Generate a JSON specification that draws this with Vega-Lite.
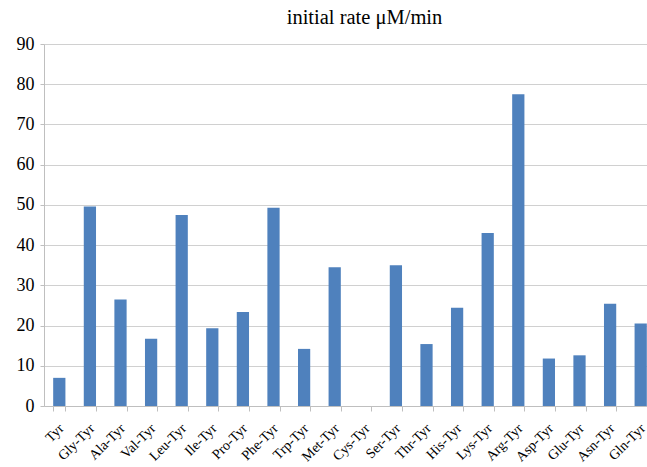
{
  "$schema": "https://vega.github.io/schema/vega-lite/v6.json",
  "autosize": "none",
  "width": 603,
  "height": 362,
  "padding": {"left": 44, "top": 44, "right": 0, "bottom": 61},
  "background": "white",
  "title": {
    "text": "initial rate μM/min",
    "font": "Times New Roman, Liberation Serif, serif",
    "fontSize": 20.5,
    "fontWeight": "normal",
    "color": "#000000",
    "anchor": "middle",
    "offset": 7,
    "dx": 19
  },
  "data": {
    "values": [
      {"peptide": "Tyr", "rate": 7.0},
      {"peptide": "Gly-Tyr", "rate": 49.6},
      {"peptide": "Ala-Tyr", "rate": 26.5},
      {"peptide": "Val-Tyr", "rate": 16.7},
      {"peptide": "Leu-Tyr", "rate": 47.5},
      {"peptide": "Ile-Tyr", "rate": 19.3},
      {"peptide": "Pro-Tyr", "rate": 23.4},
      {"peptide": "Phe-Tyr", "rate": 49.3},
      {"peptide": "Trp-Tyr", "rate": 14.2},
      {"peptide": "Met-Tyr", "rate": 34.5},
      {"peptide": "Cys-Tyr", "rate": 0},
      {"peptide": "Ser-Tyr", "rate": 35.0},
      {"peptide": "Thr-Tyr", "rate": 15.4},
      {"peptide": "His-Tyr", "rate": 24.4},
      {"peptide": "Lys-Tyr", "rate": 43.0},
      {"peptide": "Arg-Tyr", "rate": 77.5},
      {"peptide": "Asp-Tyr", "rate": 11.8},
      {"peptide": "Glu-Tyr", "rate": 12.6},
      {"peptide": "Asn-Tyr", "rate": 25.4},
      {"peptide": "Gln-Tyr", "rate": 20.5}
    ]
  },
  "mark": {"type": "bar", "color": "#4F81BD"},
  "encoding": {
    "x": {
      "field": "peptide",
      "type": "nominal",
      "sort": null,
      "scale": {"range": [0, 612], "paddingInner": 0.6, "paddingOuter": 0.3},
      "axis": {
        "title": null,
        "labelAngle": -45,
        "labelFont": "Times New Roman, Liberation Serif, serif",
        "labelFontSize": 14,
        "labelColor": "#000000",
        "labelPadding": 10,
        "labelOffset": -3,
        "tickBand": "extent",
        "tickSize": 5,
        "tickColor": "#bfbfbf",
        "domainColor": "#bfbfbf",
        "grid": false
      }
    },
    "y": {
      "field": "rate",
      "type": "quantitative",
      "scale": {"domain": [0, 90], "nice": false},
      "axis": {
        "title": null,
        "values": [0, 10, 20, 30, 40, 50, 60, 70, 80, 90],
        "labelFont": "Times New Roman, Liberation Serif, serif",
        "labelFontSize": 18,
        "labelColor": "#000000",
        "labelPadding": 6,
        "tickSize": 4,
        "tickColor": "#bfbfbf",
        "domainColor": "#bfbfbf",
        "gridColor": "#d0d0d0",
        "grid": true
      }
    }
  },
  "config": {"view": {"stroke": null}}
}
